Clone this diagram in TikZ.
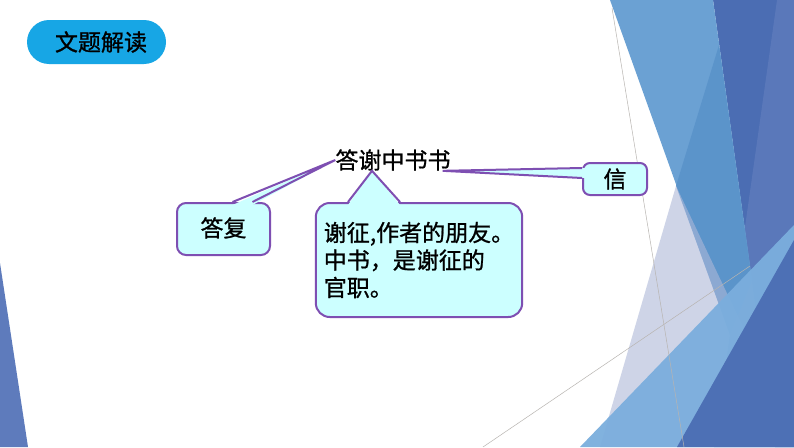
\documentclass[tikz,border=0pt]{standalone}
\usepackage{fontspec}
\newfontfamily\cjk[FakeBold=1]{Noto Sans CJK SC}
\usepackage{xcolor}

\definecolor{boxfill}{HTML}{CCFFFF}
\definecolor{boxline}{HTML}{7E4FB2}
\definecolor{pillblue}{HTML}{17A6E5}
\definecolor{facetdark}{HTML}{4B6DB3}
\definecolor{facetstrip}{HTML}{5E7BBC}
\definecolor{facetlight}{HTML}{6BA1D3}
\definecolor{facetmid}{HTML}{5A93CA}
\definecolor{facetgrey}{HTML}{AEB8D8}
\definecolor{facetlow}{HTML}{7BAEDD}
\definecolor{facetline}{HTML}{B8B4B0}

\begin{document}
\begin{tikzpicture}[x=1pt,y=-1pt,
  callbox/.style={draw=boxline,fill=boxfill,line width=2pt,rounded corners=9pt,font=\cjk\fontsize{23}{27.5}\selectfont},
  pointer/.style={draw=boxline,line width=2pt}]
\useasboundingbox (0,0) rectangle (794,447);
\fill[white] (0,0) rectangle (794,447);

% facet background on the right
\fill[facetdark] (713,0) -- (794,0) -- (794,447) -- (775,447) -- cycle;
\fill[facetstrip,opacity=0.8] (777,0) -- (794,0) -- (794,447) -- (714,447) -- cycle;
\fill[facetlight] (610,0) -- (713,0) -- (752,280) -- (730,335) -- cycle;
\fill[facetmid,opacity=0.9] (719,45) -- (676,186) -- (730,335) -- (752,280) -- cycle;
\fill[facetgrey,opacity=0.6] (600,447) -- (676,186) -- (800,447) -- cycle;
\draw[facetline,line width=0.5pt] (483,447) -- (750,266);
\fill[facetlow,opacity=0.95] (580,447) -- (794,225) -- (794,447) -- cycle;
\fill[facetdark,opacity=0.95] (677,447) -- (794,240) -- (794,447) -- cycle;
\draw[facetline,line width=0.5pt] (612,8) -- (684,447);

% facet corner on the left
\fill[facetstrip] (0,263) -- (28,447) -- (0,447) -- cycle;

% heading pill
\node[fill=pillblue,rounded corners=22pt,minimum width=139pt,minimum height=44pt,
  font=\cjk\fontsize{23}{27.5}\selectfont] (pill) at (96.5,42) {\hspace{9pt}文题解读};

% title and callouts
\node[inner sep=0pt,font=\cjk\fontsize{23}{27.5}\selectfont] (title) at (393,160) {答谢中书书};
\node[callbox,minimum width=93pt,minimum height=52pt] (reply) at (223.5,229) {\raisebox{4pt}{答复}};
\node[callbox,minimum width=64pt,minimum height=32pt,rounded corners=7pt] (letter) at (615,179) {\raisebox{-3pt}{信}};
\node[callbox,minimum width=204pt,minimum height=114pt,rounded corners=14pt,inner xsep=8pt,align=left] (note) at (419,260)
  {谢征,作者的朋友。\\中书，是谢征的\\官职。};

% pointers from the callouts to the title
\fill[boxfill] ([xshift=9pt,yshift=-3pt]reply.north) -- (title.west) -- ([xshift=29pt,yshift=-3pt]reply.north) -- cycle;
\draw[pointer] ([xshift=9pt]reply.north) -- (title.west) -- ([xshift=29pt]reply.north);

\fill[boxfill] ([xshift=-71pt,yshift=-3pt]note.north) -- ([xshift=-21pt]title.south) -- ([xshift=-19pt,yshift=-3pt]note.north) -- cycle;
\draw[pointer] ([xshift=-71pt]note.north) -- ([xshift=-21pt]title.south) -- ([xshift=-19pt]note.north);

\fill[boxfill] ([xshift=3pt,yshift=11pt]letter.west) -- ([xshift=-8pt]title.south east) -- ([xshift=3pt,yshift=1pt]letter.west) -- cycle;
\draw[pointer] ([yshift=11pt]letter.west) -- ([xshift=-8pt]title.south east) -- ([yshift=1pt]letter.west);

\end{tikzpicture}
\end{document}
